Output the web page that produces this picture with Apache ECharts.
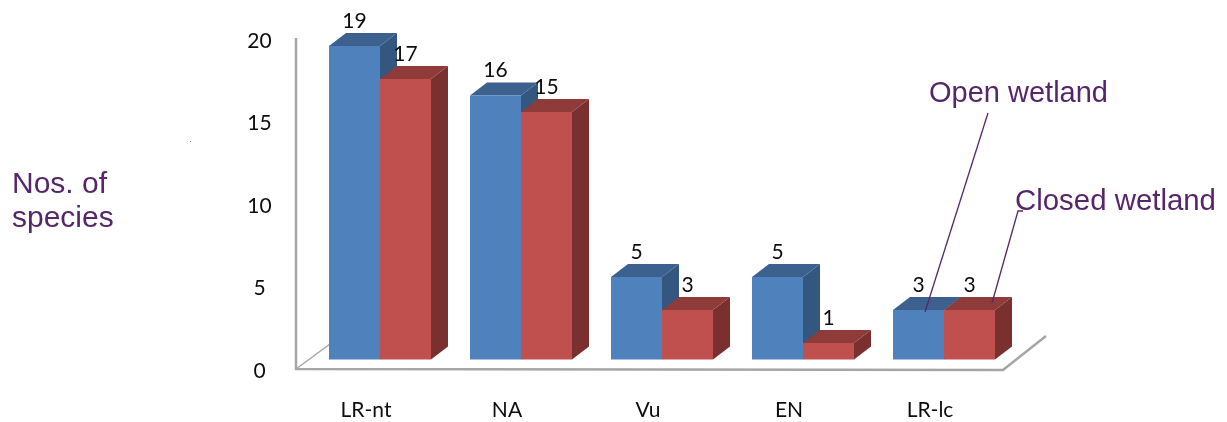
<!DOCTYPE html>
<html><head><meta charset="utf-8">
<style>html,body{margin:0;padding:0;background:#fff}#c{width:1227px;height:422px}</style>
<script src="https://cdn.jsdelivr.net/npm/echarts@6/dist/echarts.min.js"></script>
</head><body><div id="c"></div>
<script>
const categories = ['LR-nt','NA','Vu','EN','LR-lc'];
const openWetland = [19,16,5,5,3];
const closedWetland = [17,15,3,1,3];
const BW = 51, DX = 17, DY = 13;
function bar3d(colors, slot){
  return function(params, api){
    const i = api.value(0), v = api.value(1);
    const top = api.coord([i, v]), base = api.coord([i, 0]);
    const x0 = top[0] + slot*BW, x1 = x0 + BW, yT = top[1], yB = base[1];
    return {type:'group', children:[
      {type:'polygon', shape:{points:[[x1,yT],[x1+DX,yT-DY],[x1+DX,yB-DY],[x1,yB]]}, style:{fill:colors[2]}},
      {type:'polygon', shape:{points:[[x0,yT],[x0+DX,yT-DY],[x1+DX,yT-DY],[x1,yT]]}, style:{fill:colors[1]}},
      {type:'rect', shape:{x:x0,y:yT,width:BW,height:yB-yT}, style:{fill:colors[0]}},
      {type:'text', z2:50, style:{text:String(v), x:x0+BW/2, y:yT-25, align:'center', verticalAlign:'middle',
        font:'21px Lato', fill:'#0d0d0d'}}
    ]};
  };
}
const wall = '#a6a6a6', ink = '#56266a';
const chart = echarts.init(document.getElementById('c'), null, {renderer:'canvas'});
chart.setOption({
  animation:false, backgroundColor:'#fff',
  grid:{left:309.5, width:705, top:29.5, height:330},
  xAxis:{type:'category', data:categories, axisLine:{show:false}, axisTick:{show:false},
    axisLabel:{color:'#0d0d0d', fontFamily:'Lato', fontSize:21, margin:40, padding:[0,28,0,0]}},
  yAxis:{type:'value', min:0, max:20, interval:5, splitLine:{show:false}, axisLine:{show:false}, axisTick:{show:false},
    axisLabel:{color:'#0d0d0d', fontFamily:'Lato', fontSize:21, margin:50, align:'center', verticalAlign:'top', padding:[1,0,0,0]}},
  series:[
    {type:'custom', name:'Open wetland', z:2, data:openWetland.map((v,i)=>[i,v]), encode:{x:0,y:1},
      renderItem:bar3d(['#4f81bd','#3c618e','#34577f'],-1)},
    {type:'custom', name:'Closed wetland', z:3, data:closedWetland.map((v,i)=>[i,v]), encode:{x:0,y:1},
      renderItem:bar3d(['#c0504d','#8e3b39','#7a302f'],0)}
  ],
  graphic:[
    {type:'polyline', z:0, shape:{points:[[296,38],[296,369],[1003,370],[1046,336]]}, style:{stroke:wall,fill:null,lineWidth:2.5}},
    {type:'line', z:0, shape:{x1:296,y1:369,x2:330,y2:344}, style:{stroke:wall,lineWidth:1.5}},
    {type:'rect', z:0, shape:{x:190,y:141,width:1,height:1}, style:{fill:'#888'}},
    {type:'text', z:100, x:12, y:185, style:{text:'Nos. of', font:'30px "Liberation Sans"', fill:ink, verticalAlign:'middle'}},
    {type:'text', z:100, x:12, y:219, style:{text:'species', font:'30px "Liberation Sans"', fill:ink, verticalAlign:'middle'}},
    {type:'text', z:100, x:929, y:94, style:{text:'Open wetland', font:'29px "Liberation Sans"', fill:ink, verticalAlign:'middle'}},
    {type:'text', z:100, x:1015, y:202, style:{text:'Closed wetland', font:'29.4px "Liberation Sans"', fill:ink, verticalAlign:'middle'}},
    {type:'line', z:100, shape:{x1:988,y1:113,x2:925,y2:312}, style:{stroke:ink,lineWidth:1.3}},
    {type:'polyline', z:100, shape:{points:[[1023,211],[1018,211],[992,303]]}, style:{stroke:ink,fill:null,lineWidth:1.3}}
  ]
});
</script></body></html>
